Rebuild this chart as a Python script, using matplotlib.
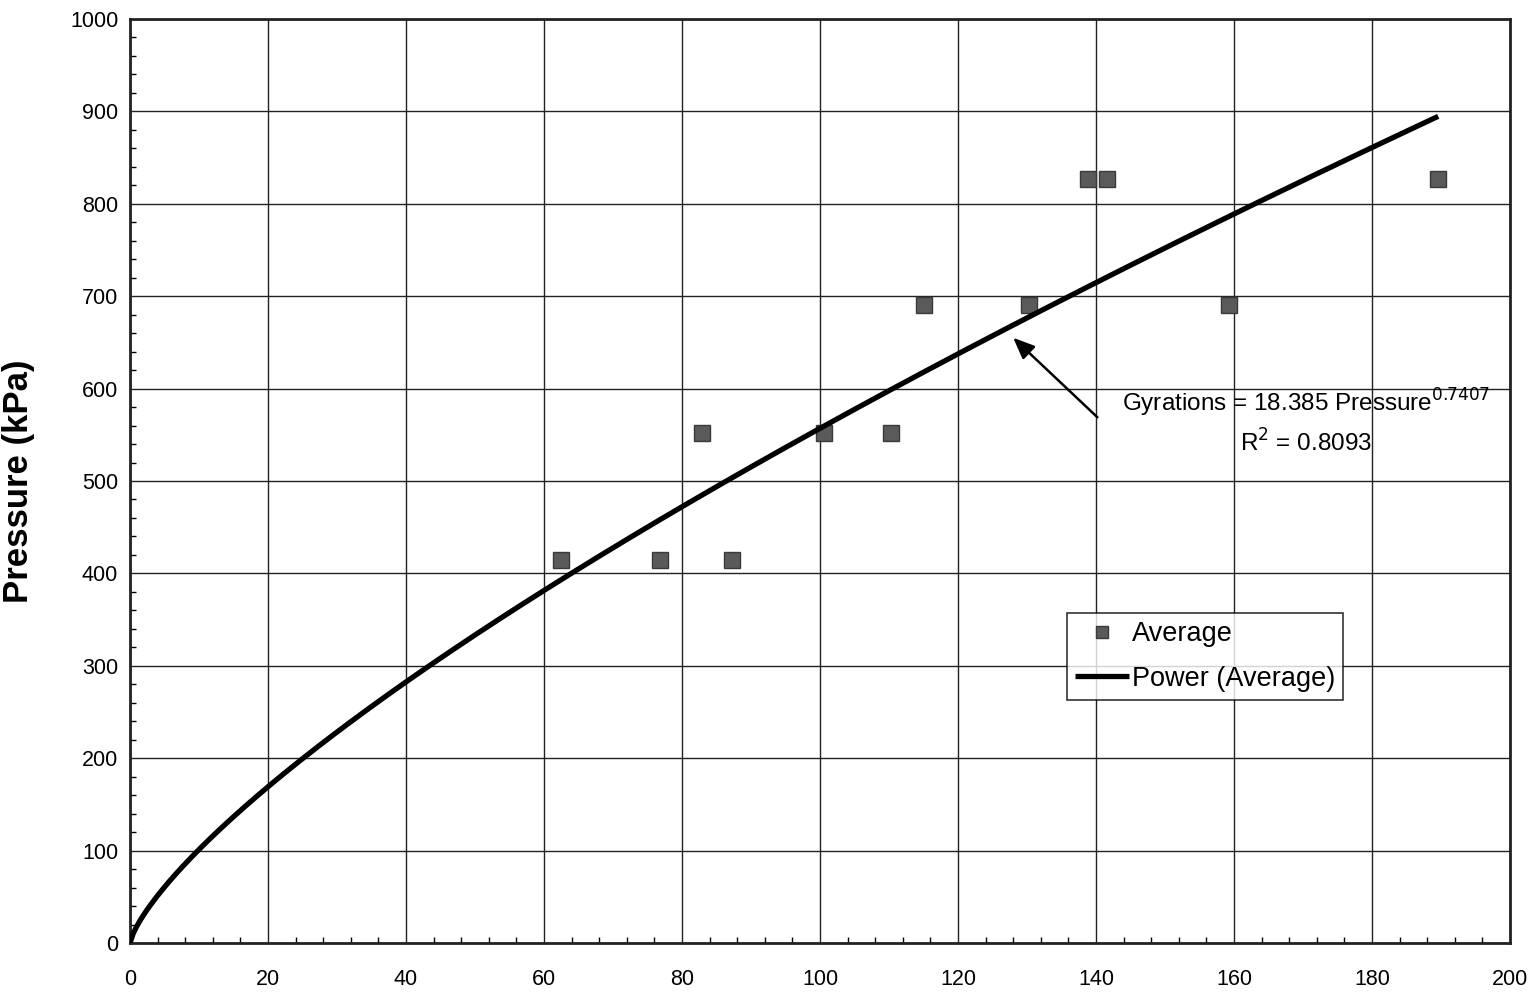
import numpy as np
import matplotlib
matplotlib.use("Agg")
import matplotlib.pyplot as plt
from matplotlib.ticker import MultipleLocator

plt.rcParams['font.family'] = ['Liberation Sans', 'DejaVu Sans']

# Data (Gyrations vs Pressure)
gyrations = [62.5, 76.8, 82.9, 87.2, 100.6, 110.3, 115.1, 130.3, 138.8, 141.6, 159.3, 189.6]
pressure = [414, 414, 552, 414, 552, 552, 690, 690, 827, 827, 690, 827]

# Power trendline coefficients
fit_coef = 18.385
fit_exp = 0.7407
fit_r2 = 0.8093

x_ticks = [0, 20, 40, 60, 80, 100, 120, 140, 160, 180, 200]
y_ticks = [0, 100, 200, 300, 400, 500, 600, 700, 800, 900, 1000]

fig = plt.figure(figsize=(15.35, 9.94), dpi=100)
ax = fig.add_axes([0.0847, 0.0513, 0.8990, 0.9296])

ax.set_xlim(0, 200)
ax.set_ylim(0, 1000)
ax.set_xticks(x_ticks)
ax.set_yticks(y_ticks)
ax.xaxis.set_minor_locator(MultipleLocator(4))
ax.yaxis.set_minor_locator(MultipleLocator(20))
ax.tick_params(which='major', direction='in', length=0, labelsize=15.5)
ax.tick_params(which='minor', direction='in', length=4, width=1)
ax.tick_params(axis='y', which='major', pad=8.5)
ax.tick_params(axis='x', which='major', pad=19)

ax.grid(True, which='major', color='#222222', linewidth=1.0)
ax.set_axisbelow(True)
for s in ax.spines.values():
    s.set_linewidth(2.0)
    s.set_color('#222222')

xs = np.linspace(0, max(gyrations), 400)
ax.plot(xs, fit_coef * xs ** fit_exp, color='black', lw=3.8,
        solid_capstyle='butt', label='Power (Average)', zorder=4)
ax.plot(gyrations, pressure, linestyle='none', marker='s', markersize=11,
        markerfacecolor='#5a5a5a', markeredgecolor='#3a3a3a', markeredgewidth=1,
        label='Average', zorder=3)

ax.set_ylabel('Pressure (kPa)', fontsize=25, fontweight='bold')
ax.yaxis.set_label_coords(-0.0688, 0.5)

ax.annotate('', xy=(128, 655), xytext=(140.2, 569),
            arrowprops=dict(arrowstyle='-|>,head_length=1.3,head_width=0.55',
                            color='black', lw=1.8, shrinkA=0, shrinkB=0))
ax.text(170.5, 585, 'Gyrations = %.3f Pressure$^{%.4f}$' % (fit_coef, fit_exp),
        ha='center', va='center', fontsize=17.5)
ax.text(170.5, 541, 'R$^{2}$ = %.4f' % fit_r2, ha='center', va='center', fontsize=17.5)

handles, labels = ax.get_legend_handles_labels()
leg = ax.legend(handles[::-1], labels[::-1], loc='upper left',
                bbox_to_anchor=((1067 - 130) / 1380, (943 - 613) / 924),
                fontsize=19.5, frameon=True, fancybox=False, edgecolor='black',
                handlelength=2.0, handletextpad=0.1, borderpad=0.3,
                labelspacing=0.68, borderaxespad=0, markerscale=0.85)
leg.get_frame().set_linewidth(1.2)

fig.savefig('out.png', dpi=100)
